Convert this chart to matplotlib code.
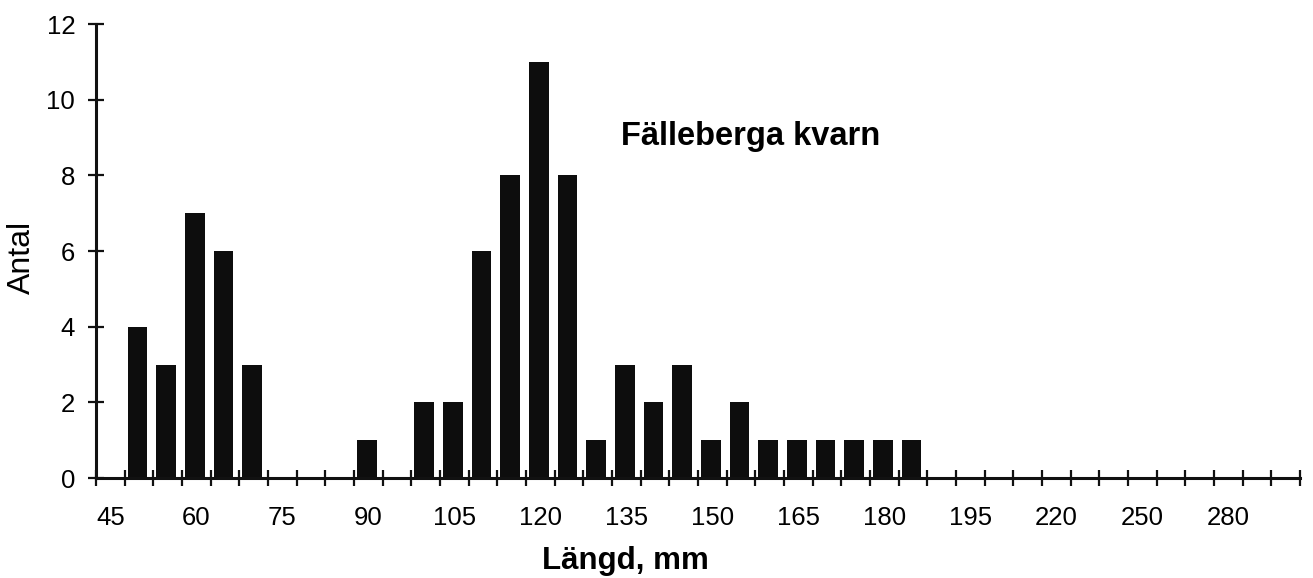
import matplotlib
matplotlib.use("Agg")
import matplotlib.pyplot as plt
import numpy as np

plt.rcParams['font.family'] = ['Liberation Sans', 'DejaVu Sans']

# Length classes (mm): 5 mm steps up to 195, then 10 mm steps
length_classes = list(range(45, 200, 5)) + list(range(200, 310, 10))
# Number of fish per length class (classes without fish are 0)
counts = [0, 4, 3, 7, 6, 3, 0, 0, 0, 1, 0, 2, 2, 6, 8, 11, 8, 1, 3, 2, 3,
          1, 2, 1, 1, 1, 1, 1, 1, 0, 0] + [0] * 11
label_every = 3
y_ticks = [0, 2, 4, 6, 8, 10, 12]
title_text = "Fälleberga kvarn"
x_title = "Längd, mm"
y_title = "Antal"

fig = plt.figure(figsize=(13.13, 5.78), dpi=100)
ax = fig.add_axes([96 / 1313, 1 - 478 / 578, 1204 / 1313, 454 / 578])

n = len(length_classes)
idx = np.arange(n)
bar_w = 0.68
ax.bar(idx - 0.5 + 0.11, counts, width=bar_w, align='edge',
       color='#0d0d0d', edgecolor='none', zorder=2)

ax.set_xlim(-0.5, n - 0.5)
ax.set_ylim(0, 12)

# Tick marks on class boundaries, labels on every third class centre
ax.set_xticks(np.arange(n + 1) - 0.5)
ax.set_xticklabels([])
ax.set_xticks(idx[::label_every], minor=True)
ax.set_xticklabels([str(v) for v in length_classes[::label_every]], minor=True)
ax.tick_params(axis='x', which='major', direction='inout', length=12, width=1.6,
               color='#111111')
ax.tick_params(axis='x', which='minor', length=0, pad=20, labelsize=18.5)

ax.set_yticks(y_ticks)
ax.tick_params(axis='y', direction='inout', length=12, width=1.6,
               color='#111111', labelsize=18.5, pad=9)

for s in ['top', 'right']:
    ax.spines[s].set_visible(False)
for s in ['left', 'bottom']:
    ax.spines[s].set_linewidth(2.2)
    ax.spines[s].set_color('#111111')

ax.set_ylabel(y_title, fontsize=23)
ax.yaxis.set_label_coords(-0.049, 0.485)
ax.set_xlabel(x_title, fontsize=22.5, fontweight='bold')
ax.xaxis.set_label_coords(0.44, -0.15)

ax.text(17.83, 8.8, title_text, fontsize=23.5, fontweight='bold',
        ha='left', va='baseline')

fig.savefig("out.png", dpi=100)
